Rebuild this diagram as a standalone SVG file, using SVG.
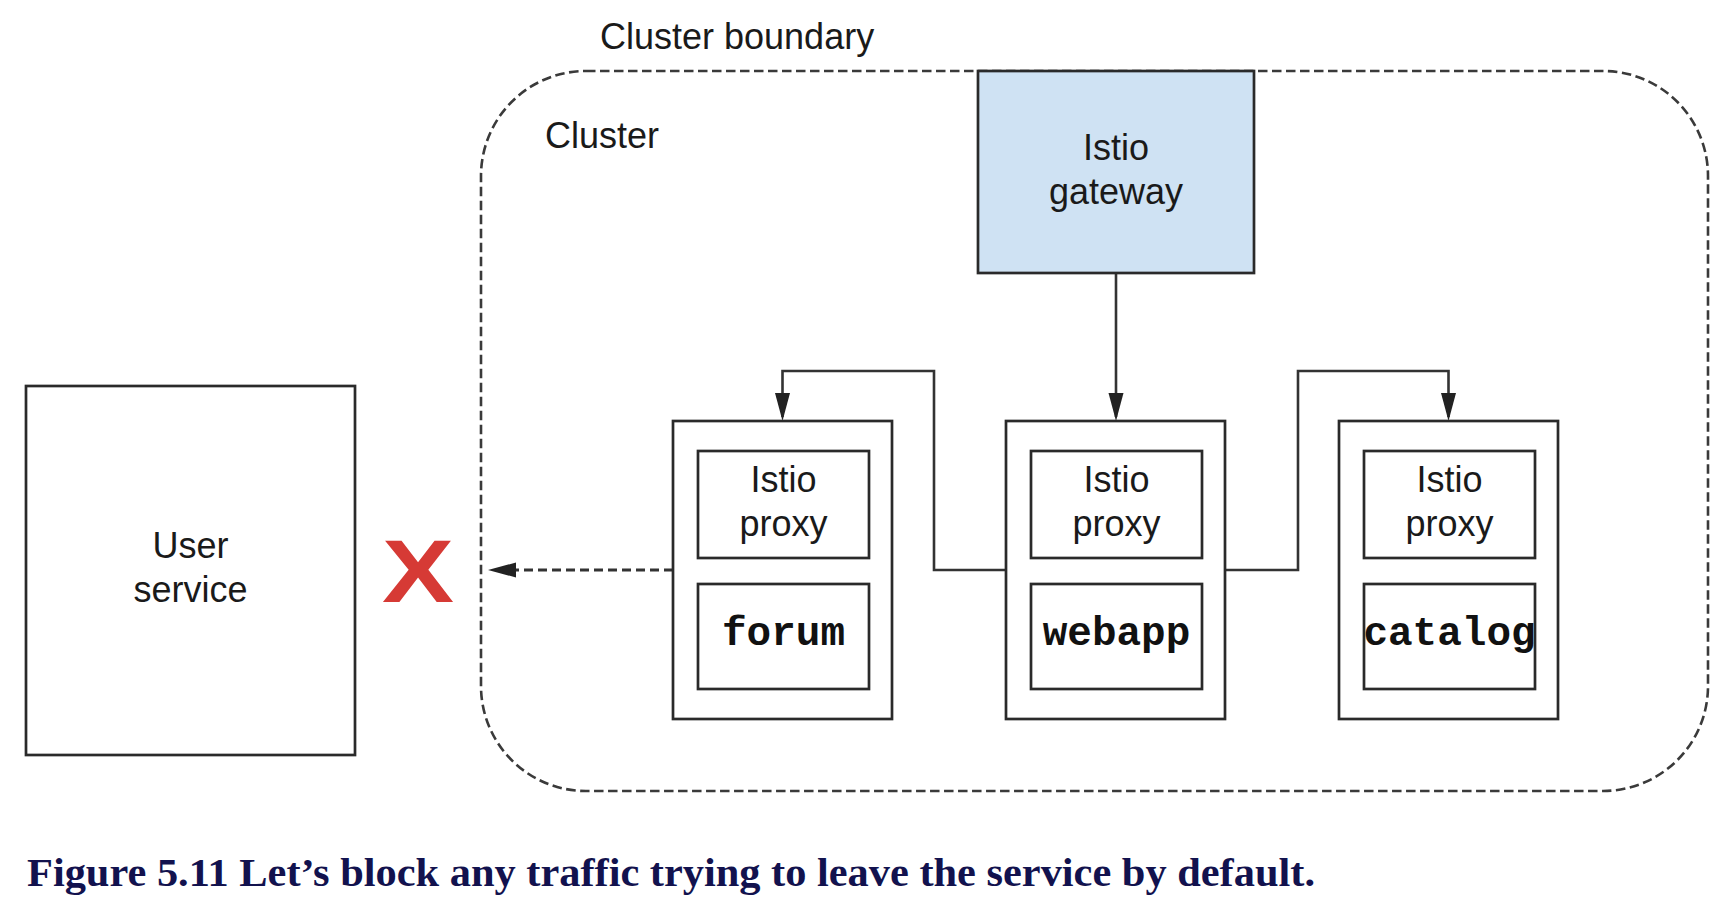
<svg xmlns="http://www.w3.org/2000/svg" width="1732" height="902" viewBox="0 0 1732 902">
  <style>
    .lbl { font-family: "Liberation Sans", Arial, sans-serif; font-size: 36px; fill: #1a1a1a; }
    .mid { text-anchor: middle; }
    .mono { font-family: "Liberation Mono", "Courier New", monospace; font-size: 41px; font-weight: bold; fill: #111; text-anchor: middle; }
    .box { fill: #fff; stroke: #2a2a2a; stroke-width: 2.7; }
    .conn { fill: none; stroke: #333; stroke-width: 2.6; }
    .dash { fill: none; stroke: #333; stroke-width: 2.8; stroke-dasharray: 9 5; }
    .boundary { fill: none; stroke: #3a3a3a; stroke-width: 2.6; stroke-dasharray: 9.5 4.5; }
  </style>
  <defs>
    <marker id="arrow" markerUnits="userSpaceOnUse" markerWidth="30" markerHeight="16" refX="24" refY="7.5" orient="auto">
      <path d="M0,0 L28,7.5 L0,15 z" fill="#222" stroke="none"/>
    </marker>
  </defs>
  <rect width="1732" height="902" fill="#fff"/>

  <g id="cluster-boundary">
    <rect class="boundary" x="481" y="71" width="1227" height="720" rx="105" ry="105"/>
    <text class="lbl" x="600" y="49">Cluster boundary</text>
    <text class="lbl" x="545" y="148">Cluster</text>
  </g>

  <g id="connectors">
    <path class="conn" d="M1116,273 L1116,417" marker-end="url(#arrow)"/>
    <path class="conn" d="M1006,570 L934,570 L934,371 L782.5,371 L782.5,417" marker-end="url(#arrow)"/>
    <path class="conn" d="M1225,570 L1298,570 L1298,371 L1448.5,371 L1448.5,417" marker-end="url(#arrow)"/>
    <path class="dash" d="M673,570 L492,570" marker-end="url(#arrow)"/>
  </g>

  <g id="istio-gateway">
    <rect x="978" y="71" width="276" height="202" fill="#cfe2f3" stroke="#2a2a2a" stroke-width="2.7"/>
    <text class="lbl mid" x="1116" y="160">Istio</text>
    <text class="lbl mid" x="1116" y="204">gateway</text>
  </g>

  <g id="user-service">
    <rect class="box" x="26" y="386" width="329" height="369"/>
    <text class="lbl mid" x="190.5" y="558">User</text>
    <text class="lbl mid" x="190.5" y="602">service</text>
  </g>

  <g id="blocked-mark">
    <text x="382" y="602" font-family="Liberation Sans, Arial, sans-serif" font-weight="bold" font-size="89" fill="#d63a35" textLength="72" lengthAdjust="spacingAndGlyphs">X</text>
  </g>

  <g id="forum-pod">
    <rect class="box" x="673" y="421" width="219" height="298"/>
    <rect class="box" x="698" y="451" width="171" height="107"/>
    <text class="lbl mid" x="783.5" y="492">Istio</text>
    <text class="lbl mid" x="783.5" y="536">proxy</text>
    <rect class="box" x="698" y="584" width="171" height="105"/>
    <text class="mono" x="783.5" y="645">forum</text>
  </g>

  <g id="webapp-pod">
    <rect class="box" x="1006" y="421" width="219" height="298"/>
    <rect class="box" x="1031" y="451" width="171" height="107"/>
    <text class="lbl mid" x="1116.5" y="492">Istio</text>
    <text class="lbl mid" x="1116.5" y="536">proxy</text>
    <rect class="box" x="1031" y="584" width="171" height="105"/>
    <text class="mono" x="1116.5" y="645">webapp</text>
  </g>

  <g id="catalog-pod">
    <rect class="box" x="1339" y="421" width="219" height="298"/>
    <rect class="box" x="1364" y="451" width="171" height="107"/>
    <text class="lbl mid" x="1449.5" y="492">Istio</text>
    <text class="lbl mid" x="1449.5" y="536">proxy</text>
    <rect class="box" x="1364" y="584" width="171" height="105"/>
    <text class="mono" x="1449.5" y="645">catalog</text>
  </g>

  <g id="caption">
    <text x="27" y="886" font-family="Liberation Serif, 'Times New Roman', serif" font-weight="bold" font-size="41" fill="#12124e" textLength="1288" lengthAdjust="spacingAndGlyphs">Figure 5.11 Let’s block any traffic trying to leave the service by default.</text>
  </g>
</svg>
